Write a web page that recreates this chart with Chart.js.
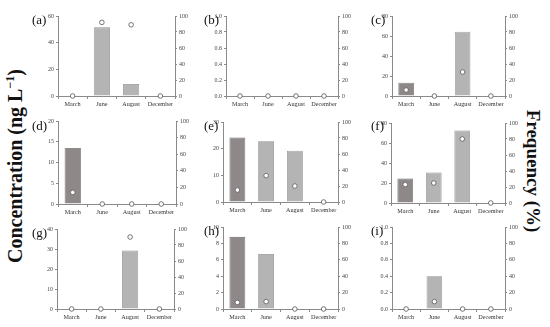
<!DOCTYPE html>
<html>
<head>
<meta charset="utf-8">
<script src="https://cdn.jsdelivr.net/npm/chart.js@4"></script>
<style>
  body { margin: 0; background: #fff; }
  #wrap { position: relative; width: 550px; height: 327px; overflow: hidden; font-family: "Liberation Serif", serif; }
  canvas { position: absolute; }
  .tag { position: absolute; font-size: 13px; color: #111; }
  .ytitle { position: absolute; font-weight: bold; font-size: 19px; color: #111; white-space: nowrap; }
</style>
</head>
<body>
<div id="wrap">
  <div class="ytitle" style="left:15px;top:166px;font-size:20px;transform:translate(-50%,-50%) rotate(-90deg);">Concentration (ng L<sup style="font-size:12px">&minus;1</sup>)</div>
  <div class="ytitle" style="left:533px;top:171px;transform:translate(-50%,-50%) rotate(90deg);">Frequency (%)</div>
</div>
<script>
// months on the x axis
const months = ['March', 'June', 'August', 'December'];

// concentration (ng/L) per panel
const concA = [0, 51.5, 9, 0];
const concB = [0, 0, 0, 0];
const concC = [13.3, 0, 64.3, 0];
const concD = [13.5, 0, 0, 0];
const concE = [24.2, 22.8, 19.2, 0];
const concF = [24.5, 30.5, 72.5, 0];
const concG = [0, 0, 29.3, 0];
const concH = [8.8, 6.7, 0, 0];
const concI = [0, 0.4, 0, 0];

// detection frequency (%) per panel
const freqA = [0, 92, 89, 0];
const freqB = [0, 0, 0, 0];
const freqC = [7.5, 0, 30, 0];
const freqD = [14, 0, 0, 0];
const freqE = [15, 33, 20, 0];
const freqF = [23, 25, 80, 0];
const freqG = [0, 0, 90, 0];
const freqH = [8, 9, 0, 0];
const freqI = [0, 9, 0, 0];

// left axis ranges
const concMax = [60, 1, 80, 20, 30, 80, 40, 10, 1];
const concStep = [20, 0.2, 20, 5, 10, 20, 10, 2, 0.2];
const panelTags = ['(a)', '(b)', '(c)', '(d)', '(e)', '(f)', '(g)', '(h)', '(i)'];

const concAll = [concA, concB, concC, concD, concE, concF, concG, concH, concI];
const freqAll = [freqA, freqB, freqC, freqD, freqE, freqF, freqG, freqH, freqI];

// plot area of each panel [left, top, right, bottom]
const areas = [
  [58, 16, 175, 96], [226, 16, 338, 96], [392, 16, 505, 96],
  [58, 121, 176, 204], [223, 122, 338, 202], [391, 123, 505, 203],
  [57, 229, 174, 309], [223, 227, 338, 309], [392, 227, 505, 309]
];
const tagPos = [
  [32, 12], [204, 12], [371, 12],
  [32, 118], [204, 118], [371, 118],
  [32, 225], [204, 223], [371, 223]
];

const AXW = 18, XH = 16, PADT = 6;
const wrap = document.getElementById('wrap');
const tickFont = { family: 'Liberation Serif', size: 6 };
const axisCol = '#8a8a8a';

concAll.forEach(function (conc, i) {
  const a = areas[i];
  const cv = document.createElement('canvas');
  const w = (a[2] + AXW) - (a[0] - AXW);
  const h = (a[3] + XH) - (a[1] - PADT);
  cv.width = w; cv.height = h;
  cv.style.left = (a[0] - AXW) + 'px';
  cv.style.top = (a[1] - PADT) + 'px';
  wrap.appendChild(cv);

  const tag = document.createElement('div');
  tag.className = 'tag';
  tag.textContent = panelTags[i];
  tag.style.left = tagPos[i][0] + 'px';
  tag.style.top = tagPos[i][1] + 'px';
  wrap.appendChild(tag);

  new Chart(cv.getContext('2d'), {
    data: {
      labels: months,
      datasets: [{
        type: 'line',
        data: freqAll[i],
        yAxisID: 'y2',
        showLine: false,
        pointRadius: 2.3,
        pointBackgroundColor: '#fff',
        pointBorderColor: '#666',
        pointBorderWidth: 0.9,
        clip: false,
        order: 0
      }, {
        type: 'bar',
        data: conc,
        yAxisID: 'y',
        backgroundColor: ['#8f8888', '#b4b4b4', '#b4b4b4', '#b4b4b4'],
        borderColor: ['#6e6868', '#8c8c8c', '#8c8c8c', '#8c8c8c'],
        borderWidth: 0.8,
        barPercentage: 0.95,
        categoryPercentage: 0.58,
        order: 1
      }]
    },
    options: {
      responsive: false,
      animation: false,
      devicePixelRatio: 1,
      layout: { padding: { top: PADT, left: 0, right: 0, bottom: 0 } },
      plugins: { legend: { display: false }, tooltip: { enabled: false } },
      scales: {
        x: {
          offset: true,
          grid: { drawOnChartArea: false, tickLength: 3, color: axisCol, offset: true },
          border: { color: axisCol },
          ticks: { font: { family: 'Liberation Serif', size: 6.2 }, color: '#333', padding: 2, maxRotation: 0, autoSkip: false },
          afterFit: function (s) { s.height = XH; }
        },
        y: {
          position: 'left',
          min: 0, max: concMax[i],
          grid: { drawOnChartArea: false, tickLength: 2, color: axisCol },
          border: { color: axisCol },
          ticks: {
            stepSize: concStep[i], font: tickFont, color: '#444', padding: 2,
            callback: function (v) { return concMax[i] === 1 ? v.toFixed(1) : v; }
          },
          afterFit: function (s) { s.width = AXW; }
        },
        y2: {
          position: 'right',
          min: 0, max: 100,
          grid: { drawOnChartArea: false, tickLength: 2, color: axisCol },
          border: { color: axisCol },
          ticks: { stepSize: 20, font: tickFont, color: '#444', padding: 2 },
          afterFit: function (s) { s.width = AXW; }
        }
      }
    }
  });
});
</script>
</body>
</html>
